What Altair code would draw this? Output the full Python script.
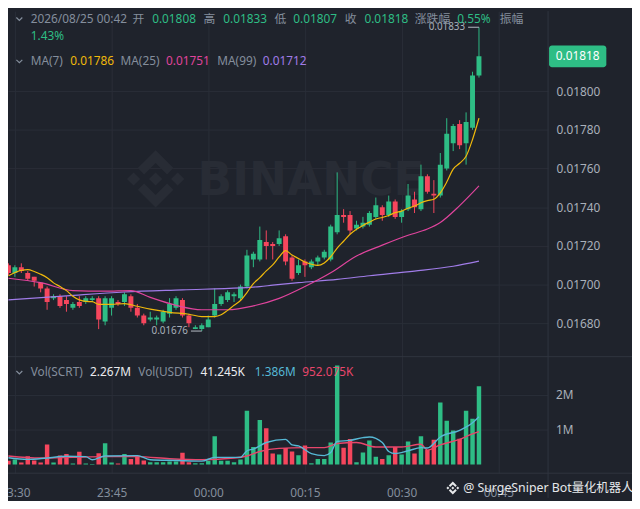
import altair as alt
import pandas as pd

# ---------------- data ----------------
opens = [0.01710,0.01706,0.01709,0.01706,0.01704,0.01701,0.01698,0.01693,0.01694,0.01692,
         0.01688,0.01691,0.01691,0.01692,0.01693,0.01681,0.01688,0.01691,0.01691,0.01694,
         0.01688,0.01684,0.01682,0.01682,0.01681,0.01685,0.01688,0.01692,0.01684,0.01677,
         0.01677,0.01678,0.01684,0.01690,0.01692,0.01694,0.01693,0.01699,0.01713,0.01713,
         0.01722,0.01721,0.01721,0.01725,0.01714,0.01706,0.01712,0.01709,0.01712,0.01714,
         0.01713,0.01727,0.01736,0.01736,0.01729,0.01730,0.01731,0.01735,0.01740,0.01736,
         0.01743,0.01735,0.01739,0.01744,0.01739,0.01756,0.01747,0.01746,0.01760,0.01773,
         0.01783,0.01773,0.01781,0.01808]
highs = [0.01711,0.01710,0.01711,0.01707,0.01704,0.01701,0.01699,0.01695,0.01695,0.01694,
         0.01691,0.01694,0.01694,0.01694,0.01694,0.01694,0.01694,0.01692,0.01696,0.01695,
         0.01690,0.01685,0.01686,0.01684,0.01687,0.01693,0.01694,0.01693,0.01685,0.01679,
         0.01680,0.01684,0.01698,0.01695,0.01697,0.01696,0.01700,0.01718,0.01717,0.01730,
         0.01728,0.01722,0.01728,0.01726,0.01715,0.01713,0.01713,0.01713,0.01715,0.01718,
         0.01731,0.01758,0.01739,0.01738,0.01733,0.01735,0.01738,0.01745,0.01741,0.01746,
         0.01744,0.01739,0.01752,0.01748,0.01762,0.01757,0.01754,0.01768,0.01786,0.01783,
         0.01785,0.01789,0.01810,0.01833]
lows = [0.01705,0.01704,0.01706,0.01702,0.01699,0.01696,0.01687,0.01692,0.01688,0.01686,
        0.01687,0.01688,0.01690,0.01691,0.01677,0.01679,0.01684,0.01689,0.01689,0.01686,
        0.01683,0.01679,0.01681,0.01679,0.01680,0.01683,0.01687,0.01683,0.01678,0.01677,
        0.01676,0.01678,0.01683,0.01689,0.01691,0.01691,0.01692,0.01698,0.01709,0.01712,
        0.01713,0.01713,0.01720,0.01710,0.01702,0.01705,0.01704,0.01708,0.01710,0.01713,
        0.01712,0.01726,0.01732,0.01726,0.01728,0.01729,0.01730,0.01734,0.01733,0.01735,
        0.01734,0.01732,0.01738,0.01737,0.01738,0.01747,0.01737,0.01745,0.01759,0.01769,
        0.01770,0.01762,0.01780,0.01807]
closes = [0.01706,0.01709,0.01707,0.01703,0.01702,0.01698,0.01691,0.01694,0.01689,0.01690,
          0.01690,0.01689,0.01693,0.01693,0.01682,0.01693,0.01693,0.01690,0.01695,0.01688,
          0.01684,0.01680,0.01683,0.01683,0.01686,0.01690,0.01693,0.01684,0.01680,0.01678,
          0.01679,0.01682,0.01690,0.01694,0.01696,0.01695,0.01699,0.01715,0.01716,0.01723,
          0.01720,0.01720,0.01724,0.01712,0.01703,0.01710,0.01710,0.01712,0.01714,0.01717,
          0.01730,0.01736,0.01735,0.01728,0.01731,0.01732,0.01737,0.01741,0.01736,0.01743,
          0.01735,0.01738,0.01746,0.01740,0.01756,0.01748,0.01746,0.01762,0.01778,0.01782,
          0.01772,0.01784,0.01808,0.01818]
volumes_m = [0.11,0.15,0.06,0.24,0.12,0.06,0.58,0.06,0.26,0.31,
             0.03,0.37,0.03,0.02,0.33,0.62,0.06,0.03,0.31,0.16,
             0.26,0.12,0.07,0.07,0.07,0.09,0.09,0.34,0.07,0.04,
             0.04,0.11,0.82,0.11,0.11,0.07,0.15,1.56,0.51,1.29,
             1.05,0.32,0.29,0.48,0.38,0.27,0.55,0.04,0.16,0.16,
             0.64,2.87,0.49,0.74,0.07,0.35,0.70,0.23,0.16,0.27,
             0.51,0.29,0.67,0.32,0.82,0.42,0.72,1.80,1.27,0.99,
             0.75,1.56,1.33,2.267]

ma7_idx = [0,2,3,4,5,6,7,8,9,10,11,12,13,14,16,18,20,22,25,28,30,32,33,34,35,36,37,38,39,40,
           41,42,43,44,45,46,47,48,49,50,51,52,53,54,55,56,57,58,59,60,61,62,63,64,65,66,67,68,69,70,
           71,72,73]
ma7_val = [0.017046,0.017074,0.017077,0.017068,0.017054,0.017036,0.017009,0.016990,0.016969,0.016940,
           0.016921,0.016913,0.016912,0.016898,0.016898,0.016902,0.016888,0.016873,0.016857,0.016847,
           0.016835,0.016835,0.016844,0.016867,0.016893,0.016918,0.016959,0.017005,0.017036,0.017071,
           0.017102,0.017143,0.017176,0.017153,0.017135,0.017117,0.017105,0.017099,0.017112,0.017144,
           0.017189,0.017224,0.017260,0.017286,0.017306,0.017323,0.017339,0.017347,0.017357,0.017372,
           0.017380,0.017395,0.017406,0.017423,0.017434,0.017441,0.017474,0.017530,0.017597,0.017627,
           0.017663,0.017750,0.017860]
ma25_idx = [0,5,10,15,19,22,26,30,34,38,42,46,50,54,58,62,65,67,70,73]
ma25_val = [0.017033,0.017010,0.016969,0.016966,0.016969,0.016934,0.016893,0.016870,0.016870,0.016890,
            0.016929,0.016990,0.017061,0.017148,0.017204,0.017255,0.017287,0.017321,0.017408,0.017510]
ma99_idx = [0,9,18,27,36,39,41,45,51,56,63,69,73]
ma99_val = [0.016921,0.016942,0.016962,0.016973,0.016983,0.016990,0.016997,0.017010,0.017027,0.017046,
            0.017070,0.017095,0.017121]

vma5_idx = [0,3,6,9,12,13,15,20,22,26,30,32,36,37,38,40,43,44,45,47,49,50,51,53,55,56,58,59,60,62,
            64,65,67,70,72,73]
vma5_val = [0.20,0.15,0.19,0.24,0.23,0.14,0.25,0.26,0.14,0.12,0.10,0.21,0.21,0.40,0.45,0.64,0.73,0.57,
            0.54,0.32,0.26,0.35,0.67,0.70,0.78,0.80,0.64,0.38,0.32,0.40,0.49,0.48,0.80,0.99,1.21,1.386]
vma10_idx = [0,5,10,15,20,25,30,35,37,39,42,46,49,51,54,57,61,64,65,67,70,72,73]
vma10_val = [0.25,0.19,0.21,0.23,0.23,0.17,0.14,0.19,0.25,0.38,0.47,0.49,0.49,0.61,0.64,0.51,0.51,0.59,
             0.42,0.57,0.73,0.89,0.952]

time_ticks = [0, 15, 30, 45, 60, 75]
time_labels = ["23:30", "23:45", "00:00", "00:15", "00:30", "00:45"]
price_ticks = [0.0168, 0.0170, 0.0172, 0.0174, 0.0176, 0.0178, 0.0180]
vol_ticks = [1, 2]
vol_tick_labels = ["1M", "2M"]

# ---------------- styling ----------------
BG = "#1f232c"
GRID = "#2a2e38"
SEP = "#30353f"
UP = "#2ebd85"
DOWN = "#f6465d"
TXT = "#848e9c"
LIGHT = "#eaecef"
C_MA7 = "#f0b90b"
C_MA25 = "#e0449d"
C_MA99 = "#a07ce8"
C_V5 = "#56b9d6"
C_V10 = "#e8466b"
WM = "#282c35"
FONT = "'Noto Sans', 'Noto Sans CJK SC', sans-serif"

times = pd.date_range(pd.Timestamp("2026-08-24 23:29"), periods=len(closes), freq="min")
t_ref = pd.Timestamp("2026-08-24 23:30")
minutes = [(ts - t_ref) / pd.Timedelta(minutes=1) for ts in times]

df = pd.DataFrame({
    "t": minutes, "open": opens, "high": highs, "low": lows, "close": closes,
    "vol": volumes_m,
    "dir": ["up" if c >= o else "down" for o, c in zip(opens, closes)],
})

def line_df(idx, val):
    return pd.DataFrame({"t": [minutes[i] for i in idx], "v": val})

XS = alt.Scale(domain=[-0.3008, 81.955], nice=False, zero=False)
PS = alt.Scale(domain=[0.0160255, 0.0184133], nice=False, zero=False)
VS = alt.Scale(domain=[-0.2486, 13.123], nice=False, zero=False)

label_expr = "[" + ",".join("'%s'" % s for s in time_labels) + "][round(datum.value/15)]"
x_axis = alt.Axis(values=time_ticks, labelExpr=label_expr, grid=True, gridColor=GRID,
                  domain=False, ticks=False, labelColor=TXT, labelFont=FONT, labelFontSize=12,
                  labelPadding=15, labelFlush=False, labelOverlap=False, labelBound=False, title=None)
price_axis = alt.Axis(orient="right", values=price_ticks, format=".5f", grid=True, gridColor=GRID,
                      domain=False, ticks=False, labelColor="#a9b0ba", labelFont=FONT,
                      labelFontSize=12, labelPadding=8, labelFlush=False, labelOverlap=False,
                      labelBound=False, title=None)

def X(field="t"):
    return alt.X(field + ":Q", scale=XS, axis=x_axis)

color = alt.Color("dir:N", scale=alt.Scale(domain=["up", "down"], range=[UP, DOWN]), legend=None)
one = pd.DataFrame({"k": [0]})

def txt(s, x, y, col, size=12, align="left", font=FONT, weight="normal"):
    return alt.Chart(one).mark_text(align=align, baseline="middle", font=font, fontSize=size,
                                    fontWeight=weight, color=col).encode(
        x=alt.value(x), y=alt.value(y), text=alt.value(s))

def hrule(x1, x2, y, col=SEP):
    return alt.Chart(one).mark_rule(color=col, strokeWidth=1).encode(
        x=alt.value(x1), x2=alt.value(x2), y=alt.value(y))

def vrule(x, y1, y2, col=SEP):
    return alt.Chart(one).mark_rule(color=col, strokeWidth=1).encode(
        x=alt.value(x), y=alt.value(y1), y2=alt.value(y2))

LOGO = ("M0,-1L0.62,-0.38L0.4,-0.16L0,-0.56L-0.4,-0.16L-0.62,-0.38Z"
        "M0,1L0.62,0.38L0.4,0.16L0,0.56L-0.4,0.16L-0.62,0.38Z"
        "M0,-0.23L0.23,0L0,0.23L-0.23,0Z"
        "M-0.77,-0.23L-0.54,0L-0.77,0.23L-1,0Z"
        "M0.77,-0.23L1,0L0.77,0.23L0.54,0Z")
CHEV = "M-1,-0.5L0,0.5L1,-0.5"

def sym(path, x, y, size, col, filled=True, sw=1.2):
    return alt.Chart(one).mark_point(shape=path, size=size, filled=filled, color=col, opacity=1,
                                     strokeWidth=sw).encode(x=alt.value(x), y=alt.value(y))

layers = []
# watermark
layers.append(sym(LOGO, 149.5, 170, 3364, WM))
layers.append(txt("BINANCE", 192, 172, WM, size=46, font="DejaVu Sans", weight="bold"))

# volume gridlines and labels
vt = pd.DataFrame({"v": vol_ticks, "lab": vol_tick_labels})
layers.append(alt.Chart(vt).mark_rule(color=GRID).encode(
    x=alt.value(0), x2=alt.value(547), y=alt.Y("v:Q", scale=VS, axis=None)))
layers.append(alt.Chart(vt).mark_text(align="left", baseline="middle", font=FONT, fontSize=12,
                                      color="#a9b0ba").encode(
    x=alt.value(555), y=alt.Y("v:Q", scale=VS, axis=None), text="lab:N"))

# candles
layers.append(alt.Chart(df).mark_rule(strokeWidth=1, clip=True).encode(
    x=X(), y=alt.Y("low:Q", scale=PS, axis=None), y2="high:Q", color=color))
layers.append(alt.Chart(df).mark_bar(size=5, clip=True).encode(
    x=X(), y=alt.Y("open:Q", scale=PS, axis=price_axis), y2="close:Q", color=color))

# volume bars
layers.append(alt.Chart(df).mark_bar(size=4.5, clip=True).encode(
    x=X(), y=alt.Y("vol:Q", scale=VS, axis=None), y2=alt.datum(0), color=color))

# moving averages
for idx, val, col, sc in [(ma99_idx, ma99_val, C_MA99, PS), (ma25_idx, ma25_val, C_MA25, PS),
                          (ma7_idx, ma7_val, C_MA7, PS), (vma10_idx, vma10_val, C_V10, VS),
                          (vma5_idx, vma5_val, C_V5, VS)]:
    layers.append(alt.Chart(line_df(idx, val)).mark_line(
        color=col, strokeWidth=1.4 if sc is VS else 1.2, clip=True, interpolate="monotone").encode(
        x=X(), y=alt.Y("v:Q", scale=sc, axis=None)))

# high / low markers
hi_i = highs.index(max(highs))
lo_i = lows.index(min(lows))
marks = pd.DataFrame({"t": [minutes[hi_i], minutes[lo_i]], "p": [highs[hi_i], lows[lo_i]],
                      "lab": ["%.5f" % highs[hi_i], "%.5f" % lows[lo_i]]})
layers.append(alt.Chart(marks).mark_rule(color="#b7bdc6", strokeWidth=1, x2Offset=-11).encode(
    x=X(), x2="t:Q", y=alt.Y("p:Q", scale=PS, axis=None)))
layers.append(alt.Chart(marks).mark_text(align="right", baseline="middle", dx=-14, font=FONT,
                                         fontSize=10, color="#a9b0ba").encode(
    x=X(), y=alt.Y("p:Q", scale=PS, axis=None), text="lab:N"))

# separators
layers.append(hrule(0, 632, 350))
layers.append(hrule(0, 632, 468))
layers.append(vrule(547, 0, 493))

# current price tag
tag = pd.DataFrame({"p": [closes[-1]], "lab": ["%.5f" % closes[-1]]})
layers.append(alt.Chart(tag).mark_rect(color=UP, cornerRadius=3, yOffset=-11, y2Offset=11).encode(
    x=alt.value(548), x2=alt.value(606), y=alt.Y("p:Q", scale=PS, axis=None), y2="p:Q"))
layers.append(alt.Chart(tag).mark_text(align="center", baseline="middle", font=FONT, fontSize=12,
                                       color="white").encode(
    x=alt.value(577), y=alt.Y("p:Q", scale=PS, axis=None), text="lab:N"))

# legends / header
for yy in (8, 50.8, 366):
    layers.append(sym(CHEV, 11.5, yy, 36, TXT, filled=False))
row1 = [("2026/08/25 00:42", TXT, 23), ("开", TXT, 126), ("0.01808", UP, 146), ("高", TXT, 198),
        ("0.01833", UP, 218), ("低", TXT, 270), ("0.01807", UP, 289), ("收", TXT, 341),
        ("0.01818", UP, 361), ("涨跌幅", TXT, 412), ("0.55%", UP, 455), ("振幅", TXT, 498)]
for s, c, x in row1:
    layers.append(txt(s, x, 8, c))
layers.append(txt("1.43%", 23, 25, UP))
row_ma = [("MA(7)", TXT, 23), ("0.01786", C_MA7, 63), ("MA(25)", TXT, 114), ("0.01751", C_MA25, 160),
          ("MA(99)", TXT, 212), ("0.01712", C_MA99, 258)]
for s, c, x in row_ma:
    layers.append(txt(s, x, 50.8, c))
row_vol = [("Vol(SCRT)", TXT, 23), ("2.267M", LIGHT, 83), ("Vol(USDT)", TXT, 132),
           ("41.245K", LIGHT, 195), ("1.386M", C_V5, 250), ("952.075K", C_V10, 298)]
for s, c, x in row_vol:
    layers.append(txt(s, x, 366, c))

# bottom watermark
layers.append(sym(LOGO, 450.5, 483, 169, "#e6e8ea"))
layers.append(txt("@ SurgeSniper Bot量化机器人", 461, 483, "#e6e8ea", size=12.5))

chart = alt.layer(*layers).resolve_scale(y="independent").properties(
    width=547, height=468,
    padding={"left": 0, "top": 0, "right": 85, "bottom": 25},
    autosize=alt.AutoSizeParams(type="none"),
    background=BG,
).configure_view(stroke=None)

chart.save("out.html", embed_options={"renderer": "svg", "actions": False})
